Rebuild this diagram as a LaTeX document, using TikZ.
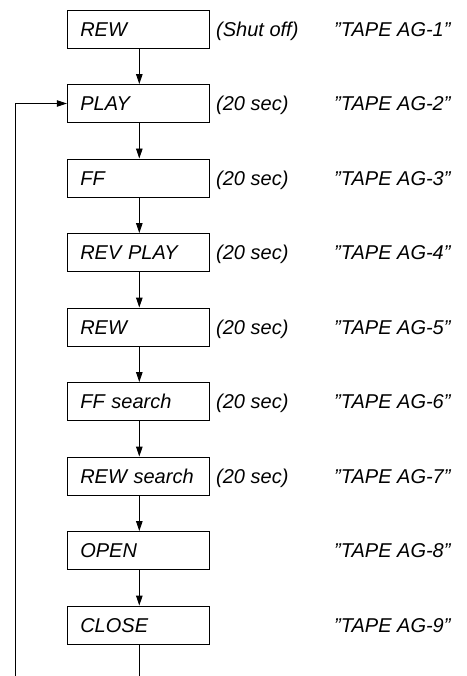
\documentclass[tikz,border=0pt]{standalone}
\usepackage{fontspec}
\setmainfont{Liberation Sans}
\usetikzlibrary{arrows.meta}
\begin{document}
\begin{tikzpicture}[x=1pt,y=1pt,
  font=\fontsize{20}{24}\selectfont\itshape,
  stepbox/.style={draw, line width=0.9pt, minimum width=142pt, minimum height=38pt,
    text width=116pt, inner xsep=13pt, align=left, anchor=center,
    text height=14.5pt, text depth=0pt},
  lbl/.style={anchor=base west, inner sep=0pt},
  conn/.style={line width=0.9pt, -{Triangle[length=10pt,width=6.5pt]}},
  plain/.style={line width=0.9pt}]
\useasboundingbox (0,0) rectangle (466,-676);
\def\bx{138.3}
\def\qq{\symbol{34}}
\foreach \i/\t/\d in {1/REW/(Shut off), 2/PLAY/(20 sec), 3/FF/(20 sec), 4/REV PLAY/(20 sec), 5/REW/(20 sec), 6/FF search/(20 sec), 7/REW search/(20 sec)}{
  \node[stepbox] (b\i) at (\bx, {-29-74.5*(\i-1)}) {\t};
  \node[lbl] (d\i) at (216, {-36.3-74.5*(\i-1)}) {\d};
  \node[lbl] (q\i) at (334, {-36.3-74.5*(\i-1)}) {\qq TAPE AG-\i\qq};
}
\foreach \i/\t in {8/OPEN, 9/CLOSE}{
  \node[stepbox] (b\i) at (\bx, {-29-74.5*(\i-1)}) {\t};
  \node[lbl] (q\i) at (334, {-36.3-74.5*(\i-1)}) {\qq TAPE AG-\i\qq};
}
\foreach \a/\b in {1/2,2/3,3/4,4/5,5/6,6/7,7/8,8/9}{
  \draw[conn] ([xshift=1pt]b\a.south) -- ([xshift=1pt]b\b.north);
}
\coordinate (e1) at (139.3,-676);
\coordinate (e2) at (15,-676);
\coordinate (c2) at (15,-103.5);
\draw[plain] ([xshift=1pt]b9.south) -- (e1);
\draw[conn] (e2) -- (c2) -- (b2.west);
\end{tikzpicture}
\end{document}
